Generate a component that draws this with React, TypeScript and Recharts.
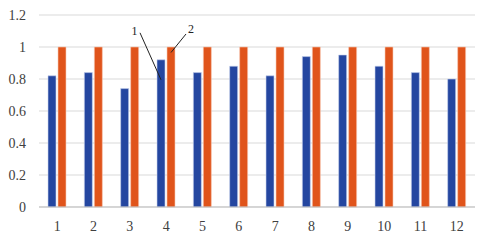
import { BarChart, Bar, XAxis, YAxis, CartesianGrid } from 'recharts'

// 12 samples, series 1 (blue) vs series 2 (orange, always 1)
const CATEGORIES = ['1', '2', '3', '4', '5', '6', '7', '8', '9', '10', '11', '12']
const SERIES_1 = [0.82, 0.84, 0.74, 0.92, 0.84, 0.88, 0.82, 0.94, 0.95, 0.88, 0.84, 0.8]
const SERIES_2 = [1, 1, 1, 1, 1, 1, 1, 1, 1, 1, 1, 1]
const Y_TICKS = [0, 0.2, 0.4, 0.6, 0.8, 1, 1.2]
const NOTE_INDEX = 3 // leader lines point at sample 4

const DATA = CATEGORIES.map((c, i) => ({ name: c, s1: SERIES_1[i], s2: SERIES_2[i] }))

const SERIF = "'Liberation Serif', 'Times New Roman', serif"
const TICK = { fill: '#404040', fontSize: 14, style: { fontFamily: SERIF } }
const NOTE_FONT = { fontSize: 12, fill: '#222', style: { fontFamily: SERIF } }

const noteOne = (p: any) => {
  if (p.index !== NOTE_INDEX) return null
  const { x, y } = p
  return (
    <g>
      <line x1={x - 17} y1={y - 27} x2={x + 4} y2={y + 20} stroke="#222" strokeWidth={1} />
      <text x={x - 22.5} y={y - 24.5} textAnchor="middle" {...NOTE_FONT}>1</text>
    </g>
  )
}

const noteTwo = (p: any) => {
  if (p.index !== NOTE_INDEX) return null
  const { x, y } = p
  return (
    <g>
      <line x1={x + 19} y1={y - 13} x2={x + 4} y2={y + 5.5} stroke="#222" strokeWidth={1} />
      <text x={x + 24} y={y - 14} textAnchor="middle" {...NOTE_FONT}>2</text>
    </g>
  )
}

export default function App() {
  return (
    <div style={{ width: 480, height: 241, background: '#fff', fontFamily: SERIF }}>
      <style>{'body{margin:0}'}</style>
      <BarChart
        width={480}
        height={241}
        data={DATA}
        margin={{ top: 15, right: 5, left: 0, bottom: 4 }}
        barCategoryGap="25%"
        barGap={2}
        style={{ fontFamily: SERIF }}
      >
        <CartesianGrid vertical={false} stroke="#d9d9d9" />
        <XAxis
          dataKey="name"
          tick={TICK}
          tickLine={false}
          axisLine={{ stroke: '#bfbfbf' }}
          tickMargin={8}
          height={30}
        />
        <YAxis
          domain={[0, 1.2]}
          ticks={Y_TICKS}
          tick={TICK}
          tickLine={false}
          axisLine={false}
          tickMargin={7}
          width={39}
        />
        <Bar
          dataKey="s1"
          fill="#2446a0"
          stroke="#c9d3ef"
          strokeWidth={0.6}
          barSize={8}
          isAnimationActive={false}
          label={noteOne}
        />
        <Bar
          dataKey="s2"
          fill="#e0541b"
          stroke="#f6c9b5"
          strokeWidth={0.6}
          barSize={8}
          isAnimationActive={false}
          label={noteTwo}
        />
      </BarChart>
    </div>
  )
}
